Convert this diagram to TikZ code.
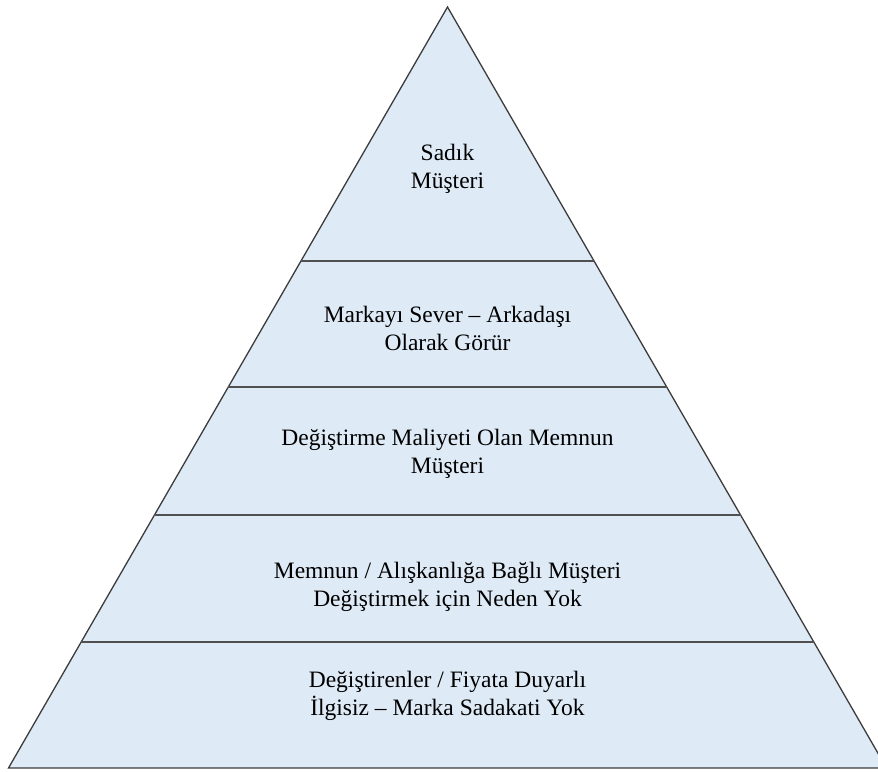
\documentclass[tikz,border=0pt]{standalone}
\usepackage{fontspec}
\setmainfont{Liberation Serif}
\usetikzlibrary{calc}
\definecolor{layerfill}{HTML}{DEEAF6}
\definecolor{edgegray}{HTML}{3C3C3C}
\tikzset{
  pyramid/.style={
    draw=edgegray, fill=layerfill, line width=1.3pt, line join=miter
  },
  tierline/.style={
    draw=edgegray!90, line width=1.3pt
  },
  tierlabel/.style={
    font=\fontsize{23.5}{28}\selectfont, align=center,
    text=black, inner sep=0pt
  },
}

\begin{document}
\begin{tikzpicture}[x=1pt,y=-1pt]
  \useasboundingbox (0,0) rectangle (878,771);
  \clip (0,0) rectangle (878,771);

  % outline of the pyramid
  \coordinate (apex) at (447.5,7);
  \coordinate (baseL) at (8.5,768);
  \coordinate (baseR) at (886.5,768);
  \path[pyramid] (apex) -- (baseR) -- (baseL) -- cycle;

  % tier separators
  \foreach \t [count=\i] in {0.3338,0.4993,0.6675,0.8344} {
    \coordinate (l\i) at ($(apex)!\t!(baseL)$);
    \coordinate (r\i) at ($(apex)!\t!(baseR)$);
    \draw[tierline] (l\i) -- (r\i);
  }

  % tier texts
  \node[tierlabel] (loyal) at (447.5,169) {Sadık\\Müşteri};
  \node[tierlabel] (friend) at (447.5,328) {Markayı Sever – Arkadaşı\\Olarak Görür};
  \node[tierlabel] (cost) at (447.5,454) {Değiştirme Maliyeti Olan Memnun\\Müşteri};
  \node[tierlabel] (habit) at (447.5,587) {Memnun / Alışkanlığa Bağlı Müşteri\\Değiştirmek için Neden Yok};
  \node[tierlabel] (switcher) at (447.5,696) {Değiştirenler / Fiyata Duyarlı\\İlgisiz – Marka Sadakati Yok};
\end{tikzpicture}
\end{document}
